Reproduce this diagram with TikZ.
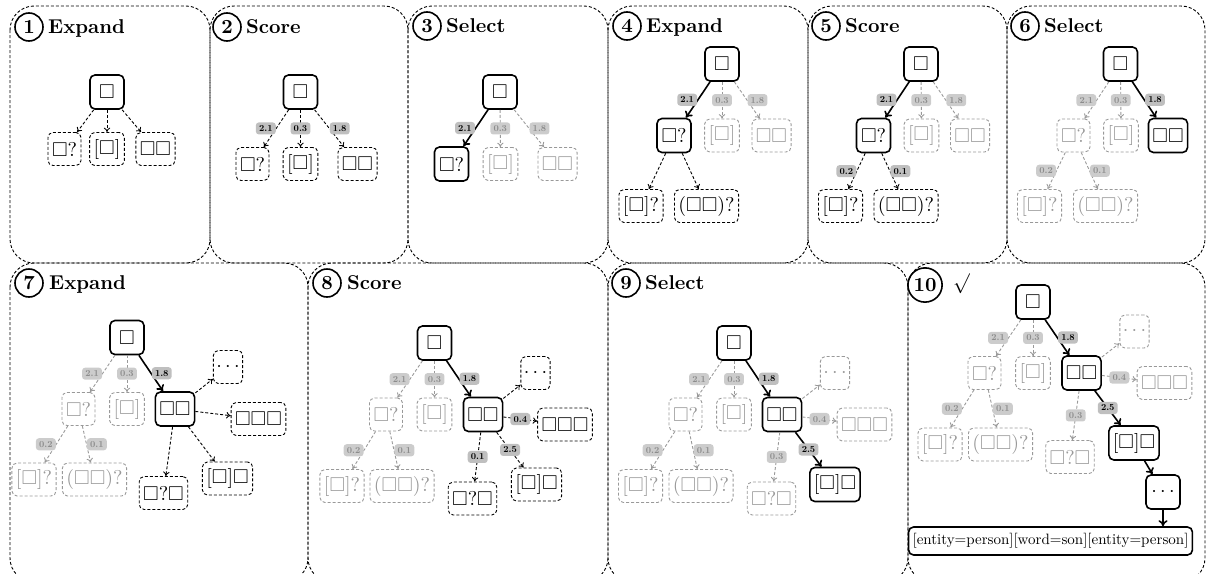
\documentclass[tikz,border=0pt]{standalone}
\usepackage{amssymb}
\usepackage{graphicx}
\usetikzlibrary{arrows.meta}
\newcommand\sqb{\ensuremath{\square}}
\newcommand\lbl[1]{\scalebox{0.46}{\bfseries #1}}
\colorlet{fadec}{black!40}
\tikzset{
  dsh/.style={dash pattern=on 1.5pt off 1pt},
  panel/.style={draw, dsh, line width=0.45pt, rounded corners=12pt},
  sel/.style={draw, line width=0.8pt, rounded corners=2.5pt, minimum width=17pt, minimum height=17pt, inner xsep=2pt, inner ysep=1pt},
  cand/.style={draw, dsh, line width=0.45pt, rounded corners=2.5pt, minimum height=16.5pt, inner xsep=2pt, inner ysep=1pt},
  fade/.style={cand, draw=fadec, text=fadec},
  dotn/.style={inner xsep=1.5pt},
  final/.style={sel, minimum height=14pt},
  ecand/.style={dsh, line width=0.45pt, -{To[length=2.2pt,width=3.2pt]}},
  efade/.style={ecand, draw=fadec},
  esel/.style={line width=0.8pt, -{To[length=3pt,width=4.5pt]}},
  lab/.style={fill=black!25, text=black, rounded corners=1.5pt, inner xsep=1.6pt, inner ysep=1.5pt},
  labf/.style={lab, fill=black!20, text=black!45},
  numc/.style={circle, draw, line width=0.8pt, minimum size=14pt, inner sep=1.4pt, font=\bfseries},
  ttl/.style={anchor=base west, inner sep=0pt, font=\bfseries}
}
\begin{document}
\begin{tikzpicture}[x=0.5pt,y=-0.5pt]
\useasboundingbox (0,0) rectangle (1208,573);
\clip (0,0) rectangle (1208,573);
% panels
\foreach \a/\b in {10/210,210/408,408/608,608/808,808/1007,1007/1205}
  \draw[panel] (\a,6) rectangle (\b,263);
\foreach \a/\b in {10/308,308/608,608/908,908/1205}
  \draw[panel] (\a,263) rectangle (\b,582);
% titles
\node[numc] (n1) at (29,27) {1};
\node[ttl] (h1) at ([xshift=2pt,yshift=-3.2pt]n1.east) {Expand};
\node[numc] (n2) at (227,27) {2};
\node[ttl] (h2) at ([xshift=2pt,yshift=-3.2pt]n2.east) {Score};
\node[numc] (n3) at (427,26) {3};
\node[ttl] (h3) at ([xshift=2pt,yshift=-3.2pt]n3.east) {Select};
\node[numc] (n4) at (627,26) {4};
\node[ttl] (h4) at ([xshift=2pt,yshift=-3.2pt]n4.east) {Expand};
\node[numc] (n5) at (826,26) {5};
\node[ttl] (h5) at ([xshift=2pt,yshift=-3.2pt]n5.east) {Score};
\node[numc] (n6) at (1025,26) {6};
\node[ttl] (h6) at ([xshift=2pt,yshift=-3.2pt]n6.east) {Select};
\node[numc] (n7) at (29,283) {7};
\node[ttl] (h7) at ([xshift=2.5pt,yshift=-3.2pt]n7.east) {Expand};
\node[numc] (n8) at (327,283) {8};
\node[ttl] (h8) at ([xshift=2.5pt,yshift=-3.2pt]n8.east) {Score};
\node[numc] (n9) at (626,283) {9};
\node[ttl] (h9) at ([xshift=2pt,yshift=-3.2pt]n9.east) {Select};
\node[numc] (n10) at (925,285) {10};
\node[inner sep=0pt] (h10) at (961.5,283.5) {$\surd$};

% ---------- panel 1
\node[sel] (p1r) at (107,92) {\sqb};
\node[cand] (p1a) at (64.5,149) {\sqb?};
\node[cand] (p1b) at (107,149) {[\sqb]};
\node[cand] (p1c) at (155.5,149) {\sqb\sqb};
\draw[ecand] (p1r) -- (p1a);
\draw[ecand] (p1r) -- (p1b);
\draw[ecand] (p1r) -- (p1c);

% ---------- panel 2
\node[sel] (p2r) at (300.5,92) {\sqb};
\node[cand] (p2a) at (252.5,164) {\sqb?};
\node[cand] (p2b) at (300.5,164) {[\sqb]};
\node[cand] (p2c) at (357.5,164) {\sqb\sqb};
\draw[ecand] (p2r) -- node[lab,left]{\lbl{2.1}} (p2a);
\draw[ecand] (p2r) -- node[lab]{\lbl{0.3}} (p2b);
\draw[ecand] (p2r) -- node[lab,right]{\lbl{1.8}} (p2c);

% ---------- panel 3
\node[sel] (p3r) at (500,92) {\sqb};
\node[sel] (p3a) at (451.5,164) {\sqb?};
\node[fade] (p3b) at (500.5,164) {[\sqb]};
\node[fade] (p3c) at (557.5,164) {\sqb\sqb};
\draw[esel] (p3r) -- node[lab,left]{\lbl{2.1}} (p3a);
\draw[efade] (p3r) -- node[labf]{\lbl{0.3}} (p3b);
\draw[efade] (p3r) -- node[labf,right]{\lbl{1.8}} (p3c);

% ---------- panel 4
\node[sel] (p4r) at (722,64) {\sqb};
\node[sel] (p4a) at (674,135.5) {\sqb?};
\node[fade] (p4b) at (722,135.5) {[\sqb]};
\node[fade] (p4c) at (771.5,135.5) {\sqb\sqb};
\node[cand] (p4d) at (641,206) {[\sqb]?};
\node[cand] (p4e) at (706.5,206) {(\sqb\sqb)?};
\draw[esel] (p4r) -- node[lab,left]{\lbl{2.1}} (p4a);
\draw[efade] (p4r) -- node[labf]{\lbl{0.3}} (p4b);
\draw[efade] (p4r) -- node[labf,right]{\lbl{1.8}} (p4c);
\draw[ecand] (p4a) -- (p4d);
\draw[ecand] (p4a) -- (p4e);

% ---------- panel 5
\node[sel] (p5r) at (921,64) {\sqb};
\node[sel] (p5a) at (873.5,135.5) {\sqb?};
\node[fade] (p5b) at (921.5,135.5) {[\sqb]};
\node[fade] (p5c) at (970,135.5) {\sqb\sqb};
\node[cand] (p5d) at (840.5,206) {[\sqb]?};
\node[cand] (p5e) at (906,206) {(\sqb\sqb)?};
\draw[esel] (p5r) -- node[lab,left]{\lbl{2.1}} (p5a);
\draw[efade] (p5r) -- node[labf]{\lbl{0.3}} (p5b);
\draw[efade] (p5r) -- node[labf,right]{\lbl{1.8}} (p5c);
\draw[ecand] (p5a) -- node[lab,left]{\lbl{0.2}} (p5d);
\draw[ecand] (p5a) -- node[lab,right]{\lbl{0.1}} (p5e);

% ---------- panel 6
\node[sel] (p6r) at (1120.5,64) {\sqb};
\node[fade] (p6a) at (1073.5,135.5) {\sqb?};
\node[fade] (p6b) at (1121,135.5) {[\sqb]};
\node[sel] (p6c) at (1168,135.5) {\sqb\sqb};
\node[fade] (p6d) at (1039.5,206) {[\sqb]?};
\node[fade] (p6e) at (1105.5,206) {(\sqb\sqb)?};
\draw[efade] (p6r) -- node[labf,left]{\lbl{2.1}} (p6a);
\draw[efade] (p6r) -- node[labf]{\lbl{0.3}} (p6b);
\draw[esel] (p6r) -- node[lab,right]{\lbl{1.8}} (p6c);
\draw[efade] (p6a) -- node[labf,left]{\lbl{0.2}} (p6d);
\draw[efade] (p6a) -- node[labf,right]{\lbl{0.1}} (p6e);

% ---------- panel 7
\node[sel] (p7r) at (127,337.5) {\sqb};
\node[fade] (p7a) at (78.5,409) {\sqb?};
\node[fade] (p7b) at (127,409) {[\sqb]};
\node[sel] (p7c) at (175,409) {\sqb\sqb};
\node[fade] (p7d) at (34,479.5) {[\sqb]?};
\node[fade] (p7e) at (94.5,479.5) {(\sqb\sqb)?};
\node[cand,dotn] (p7f) at (228,367) {$\cdots$};
\node[cand] (p7g) at (258.5,419) {\sqb\sqb\sqb};
\node[cand] (p7h) at (163.5,493) {\sqb?\sqb};
\node[cand] (p7i) at (227.5,478.5) {[\sqb]\sqb};
\draw[efade] (p7r) -- node[labf,left]{\lbl{2.1}} (p7a);
\draw[efade] (p7r) -- node[labf]{\lbl{0.3}} (p7b);
\draw[esel] (p7r) -- node[lab,right]{\lbl{1.8}} (p7c);
\draw[efade] (p7a) -- node[labf,left]{\lbl{0.2}} (p7d);
\draw[efade] (p7a) -- node[labf,right]{\lbl{0.1}} (p7e);
\draw[ecand] (p7c) -- (p7f);
\draw[ecand] (p7c) -- (p7g);
\draw[ecand] (p7c) -- (p7h);
\draw[ecand] (p7c) -- (p7i);

% ---------- panel 8
\node[sel] (p8r) at (434.5,343) {\sqb};
\node[fade] (p8a) at (386,414.5) {\sqb?};
\node[fade] (p8b) at (434.5,414.5) {[\sqb]};
\node[sel] (p8c) at (483,414.5) {\sqb\sqb};
\node[fade] (p8d) at (342,486) {[\sqb]?};
\node[fade] (p8e) at (402,486) {(\sqb\sqb)?};
\node[cand,dotn] (p8f) at (535.5,373) {$\cdots$};
\node[cand] (p8g) at (565,424.5) {\sqb\sqb\sqb};
\node[cand] (p8h) at (472.5,498.5) {\sqb?\sqb};
\node[cand] (p8i) at (536.5,484.5) {[\sqb]\sqb};
\draw[efade] (p8r) -- node[labf,left]{\lbl{2.1}} (p8a);
\draw[efade] (p8r) -- node[labf]{\lbl{0.3}} (p8b);
\draw[esel] (p8r) -- node[lab,right]{\lbl{1.8}} (p8c);
\draw[efade] (p8a) -- node[labf,left]{\lbl{0.2}} (p8d);
\draw[efade] (p8a) -- node[labf,right]{\lbl{0.1}} (p8e);
\draw[ecand] (p8c) -- (p8f);
\draw[ecand] (p8c) -- node[lab]{\lbl{0.4}} (p8g);
\draw[ecand] (p8c) -- node[lab]{\lbl{0.1}} (p8h);
\draw[ecand] (p8c) -- node[lab]{\lbl{2.5}} (p8i);

% ---------- panel 9
\node[sel] (p9r) at (734,343) {\sqb};
\node[fade] (p9a) at (685.5,414.5) {\sqb?};
\node[fade] (p9b) at (734,414.5) {[\sqb]};
\node[sel] (p9c) at (782,414.5) {\sqb\sqb};
\node[fade] (p9d) at (640.5,486) {[\sqb]?};
\node[fade] (p9e) at (701,486) {(\sqb\sqb)?};
\node[fade,dotn] (p9f) at (835,373) {$\cdots$};
\node[fade] (p9g) at (864.5,424.5) {\sqb\sqb\sqb};
\node[fade] (p9h) at (771.5,498.5) {\sqb?\sqb};
\node[sel] (p9i) at (835,484.5) {[\sqb]\sqb};
\draw[efade] (p9r) -- node[labf,left]{\lbl{2.1}} (p9a);
\draw[efade] (p9r) -- node[labf]{\lbl{0.3}} (p9b);
\draw[esel] (p9r) -- node[lab,right]{\lbl{1.8}} (p9c);
\draw[efade] (p9a) -- node[labf,left]{\lbl{0.2}} (p9d);
\draw[efade] (p9a) -- node[labf,right]{\lbl{0.1}} (p9e);
\draw[efade] (p9c) -- (p9f);
\draw[efade] (p9c) -- node[labf]{\lbl{0.4}} (p9g);
\draw[efade] (p9c) -- node[labf]{\lbl{0.3}} (p9h);
\draw[esel] (p9c) -- node[lab]{\lbl{2.5}} (p9i);

% ---------- panel 10
\node[sel] (p10r) at (1033,302) {\sqb};
\node[fade] (p10a) at (984.5,373) {\sqb?};
\node[fade] (p10b) at (1033,373) {[\sqb]};
\node[sel] (p10c) at (1081.5,373) {\sqb\sqb};
\node[fade] (p10d) at (940,444.5) {[\sqb]?};
\node[fade] (p10e) at (1000.5,444.5) {(\sqb\sqb)?};
\node[fade,dotn] (p10f) at (1134.5,331.5) {$\cdots$};
\node[fade] (p10g) at (1164.5,383) {\sqb\sqb\sqb};
\node[fade] (p10h) at (1070,457) {\sqb?\sqb};
\node[sel] (p10i) at (1134,443) {[\sqb]\sqb};
\node[sel] (p10j) at (1163,492) {$\cdots$};
\node[final] (p10k) at (1050.5,541) {\scalebox{0.75}{[entity=person][word=son][entity=person]}};
\draw[efade] (p10r) -- node[labf,left]{\lbl{2.1}} (p10a);
\draw[efade] (p10r) -- node[labf]{\lbl{0.3}} (p10b);
\draw[esel] (p10r) -- node[lab,right]{\lbl{1.8}} (p10c);
\draw[efade] (p10a) -- node[labf,left]{\lbl{0.2}} (p10d);
\draw[efade] (p10a) -- node[labf,right]{\lbl{0.1}} (p10e);
\draw[efade] (p10c) -- (p10f);
\draw[efade] (p10c) -- node[labf]{\lbl{0.4}} (p10g);
\draw[efade] (p10c) -- node[labf]{\lbl{0.3}} (p10h);
\draw[esel] (p10c) -- node[lab]{\lbl{2.5}} (p10i);
\draw[esel] (p10i) -- (p10j);
\draw[esel] (p10j.south) -- (p10j.south |- p10k.north);
\end{tikzpicture}
\end{document}
